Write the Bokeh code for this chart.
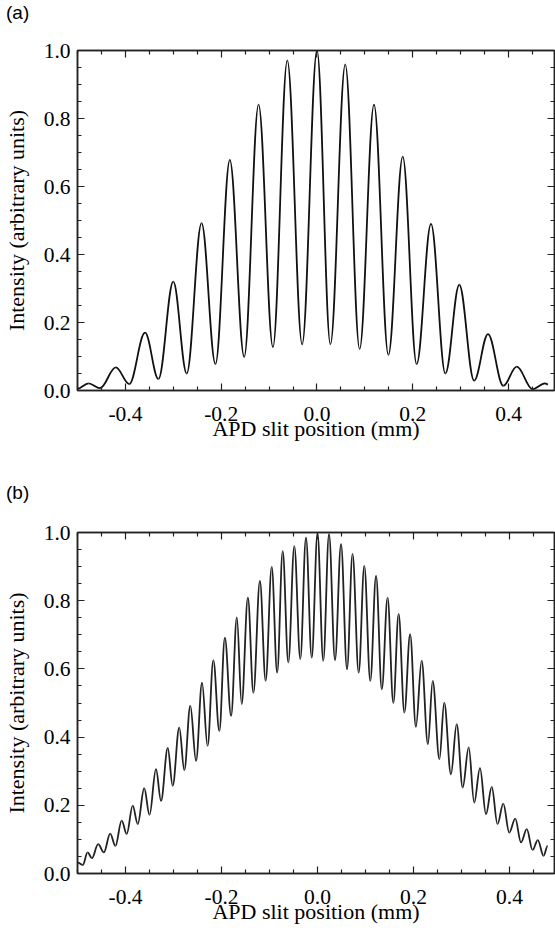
import numpy as np
from bokeh.plotting import figure
from bokeh.models import (LinearAxis, FixedTicker, ColumnDataSource, Range1d,
                          CustomJSTickFormatter, Div)
from bokeh.layouts import column
from bokeh.embed import file_html
from bokeh.resources import INLINE

# ---------------- data (fringe maxima / minima) ----------------
# panel (a): x position (mm) of successive extrema and their intensity
a_x = [-0.500, -0.477, -0.453, -0.420, -0.392, -0.359, -0.331, -0.300, -0.272, -0.241,
       -0.212, -0.182, -0.152, -0.122, -0.092, -0.062, -0.031, 0.000, 0.028, 0.059,
       0.089, 0.119, 0.149, 0.179, 0.208, 0.238, 0.268, 0.297, 0.328, 0.357,
       0.389, 0.417, 0.450, 0.476, 0.482]
a_y = [0.005, 0.021, 0.007, 0.068, 0.019, 0.170, 0.034, 0.320, 0.050, 0.492,
       0.078, 0.678, 0.099, 0.841, 0.128, 0.971, 0.136, 1.000, 0.136, 0.959,
       0.122, 0.841, 0.105, 0.688, 0.078, 0.490, 0.050, 0.311, 0.029, 0.166,
       0.014, 0.070, 0.004, 0.021, 0.018]

# panel (b)
b_x = [-0.4995, -0.489, -0.479, -0.470, -0.457, -0.445, -0.432, -0.421, -0.408, -0.3975,
       -0.385, -0.3745, -0.361, -0.350, -0.3365, -0.326, -0.312, -0.3017, -0.288, -0.2775,
       -0.265, -0.253, -0.2406, -0.229, -0.217, -0.2045, -0.193, -0.180, -0.168, -0.158,
       -0.145, -0.1335, -0.120, -0.108, -0.0954, -0.084, -0.0725, -0.0608, -0.0483, -0.0358,
       -0.024, -0.012,
       0.000, 0.012, 0.024, 0.0365, 0.049, 0.0615, 0.073, 0.0858, 0.0975, 0.110,
       0.122, 0.134, 0.146, 0.158, 0.169, 0.181, 0.193, 0.205, 0.217, 0.230,
       0.240, 0.254, 0.264, 0.278, 0.290, 0.3025, 0.315, 0.3265, 0.3385, 0.351,
       0.363, 0.375, 0.387, 0.3995, 0.412, 0.424, 0.436, 0.448, 0.459, 0.471, 0.4795]
b_y = [0.032, 0.025, 0.062, 0.045, 0.086, 0.062, 0.117, 0.081, 0.155, 0.116,
       0.199, 0.145, 0.250, 0.172, 0.306, 0.213, 0.368, 0.257, 0.428, 0.303,
       0.492, 0.330, 0.560, 0.374, 0.626, 0.418, 0.692, 0.462, 0.751, 0.497,
       0.809, 0.530, 0.858, 0.565, 0.899, 0.589, 0.945, 0.619, 0.960, 0.629,
       0.985, 0.633,
       0.997, 0.624, 0.995, 0.626, 0.966, 0.599, 0.937, 0.589, 0.902, 0.565,
       0.873, 0.540, 0.809, 0.500, 0.761, 0.472, 0.702, 0.430, 0.624, 0.379,
       0.565, 0.335, 0.501, 0.291, 0.438, 0.252, 0.370, 0.208, 0.309, 0.174,
       0.254, 0.145, 0.205, 0.120, 0.161, 0.091, 0.130, 0.069, 0.098, 0.052, 0.081]

x_ticks = [-0.4, -0.2, 0.0, 0.2, 0.4]
x_tick_labels = ["-0.4", "-0.2", "0.0", "0.2", "0.4"]
x_minor = [-0.5, -0.45, -0.35, -0.3, -0.25, -0.15, -0.1, -0.05,
           0.05, 0.1, 0.15, 0.25, 0.3, 0.35, 0.45, 0.5]
y_ticks = [0.0, 0.2, 0.4, 0.6, 0.8, 1.0]
y_tick_labels = ["0.0", "0.2", "0.4", "0.6", "0.8", "1.0"]
y_minor = [0.05, 0.1, 0.15, 0.25, 0.3, 0.35, 0.45, 0.5, 0.55,
           0.65, 0.7, 0.75, 0.85, 0.9, 0.95]

x_title = "APD slit position (mm)"
y_title = "Intensity (arbitrary units)"
panel_tags = ["(a)", "(b)"]

# ---------------- style ----------------
SERIF = "Liberation Serif"
SANS = "Liberation Sans"
PX_PER_MM = 480.0
FRAME_RIGHT = 554
K = 0.3634          # bezier handle fraction (horizontal tangents at extrema)
AX_COLOR = "#222222"
TICK_FS = "21.5px"
LABEL_FS = "22px"

LOOKUP = """
for (let i = 0; i < tvals.length; i++) {
  if (Math.abs(tick - tvals[i]) < 1e-9) { return tlabels[i]; }
}
return "";
"""


def bez_source(xs, ys):
    xs = np.asarray(xs, dtype=float)
    ys = np.asarray(ys, dtype=float)
    dx = xs[1:] - xs[:-1]
    return ColumnDataSource(dict(
        x0=xs[:-1], y0=ys[:-1], x1=xs[1:], y1=ys[1:],
        cx0=xs[:-1] + K * dx, cy0=ys[:-1],
        cx1=xs[1:] - K * dx, cy1=ys[1:]))


def style_axis(ax, labelled):
    ax.axis_line_color = AX_COLOR
    ax.axis_line_width = 1.5
    ax.major_tick_line_color = AX_COLOR
    ax.minor_tick_line_color = AX_COLOR
    ax.major_tick_line_width = 1.2
    ax.minor_tick_line_width = 1.2
    ax.major_tick_in = 7
    ax.major_tick_out = 0
    ax.minor_tick_in = 4
    ax.minor_tick_out = 0
    if labelled:
        ax.major_label_text_font = SERIF
        ax.major_label_text_font_size = TICK_FS
        ax.major_label_text_color = "black"
        ax.axis_label_text_font = SERIF
        ax.axis_label_text_font_size = LABEL_FS
        ax.axis_label_text_font_style = "normal"
        ax.axis_label_text_color = "black"
    else:
        ax.major_label_text_font_size = "0px"
        ax.major_label_standoff = 0


def make_tag(tag, height, pad_top):
    html = ('<div style="font-family: \'Liberation Sans\', Arial, sans-serif; '
            'font-size: 19px; line-height: 22px; color: #000; '
            f'padding: {pad_top}px 0 0 6px; margin: 0;">{tag}</div>')
    return Div(text=html, width=555, height=height, margin=0)


def make_panel(xs, ys, left, top, bottom, height, line_color):
    x_end = -0.5 + (FRAME_RIGHT - left) / PX_PER_MM
    p = figure(width=555, height=height,
               x_range=Range1d(-0.5, x_end), y_range=Range1d(0.0, 1.0),
               output_backend="svg", toolbar_location=None,
               x_axis_location=None, y_axis_location=None,
               min_border_left=left, min_border_right=1,
               min_border_top=top, min_border_bottom=bottom)
    p.grid.visible = False
    p.outline_line_color = AX_COLOR
    p.outline_line_width = 1.5
    p.background_fill_color = "white"
    p.border_fill_color = "white"

    xt = FixedTicker(ticks=x_ticks, minor_ticks=x_minor)
    yt = FixedTicker(ticks=y_ticks, minor_ticks=y_minor)
    xfmt = CustomJSTickFormatter(args=dict(tvals=x_ticks, tlabels=x_tick_labels), code=LOOKUP)
    yfmt = CustomJSTickFormatter(args=dict(tvals=y_ticks, tlabels=y_tick_labels), code=LOOKUP)
    blank = CustomJSTickFormatter(code="return '';")

    bx = LinearAxis(ticker=xt, formatter=xfmt, axis_label=x_title)
    style_axis(bx, True)
    bx.major_label_standoff = 16
    bx.axis_label_standoff = -8
    p.add_layout(bx, "below")

    lx = LinearAxis(ticker=yt, formatter=yfmt, axis_label=y_title)
    style_axis(lx, True)
    lx.major_label_standoff = 7
    lx.axis_label_standoff = 12
    p.add_layout(lx, "left")

    tx = LinearAxis(ticker=xt, formatter=blank)
    style_axis(tx, False)
    p.add_layout(tx, "above")

    rx = LinearAxis(ticker=yt, formatter=blank)
    style_axis(rx, False)
    p.add_layout(rx, "right")

    p.bezier(x0="x0", y0="y0", x1="x1", y1="y1", cx0="cx0", cy0="cy0",
             cx1="cx1", cy1="cy1", source=bez_source(xs, ys),
             line_color=line_color, line_width=1.8)
    return p


tag_a = make_tag(panel_tags[0], height=25, pad_top=2)
pa = make_panel(a_x, a_y, left=76, top=25, bottom=59, height=424, line_color="#111111")
tag_b = make_tag(panel_tags[1], height=58, pad_top=33)
pb = make_panel(b_x, b_y, left=77, top=25, bottom=60, height=426, line_color="#222222")

layout = column(tag_a, pa, tag_b, pb, spacing=0)
open("out.html", "w").write(file_html(layout, INLINE))
